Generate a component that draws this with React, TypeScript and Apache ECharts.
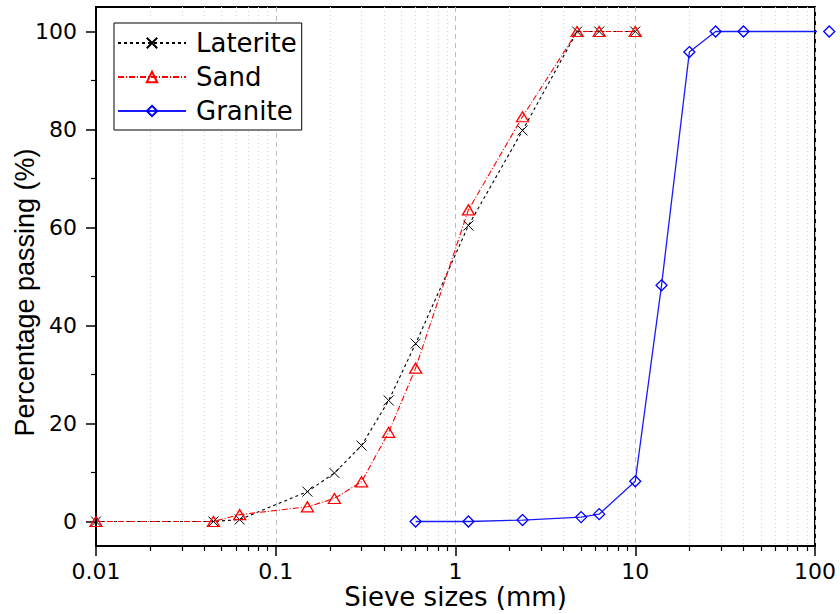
import React, { useEffect, useRef } from 'react';
import * as echarts from 'echarts';

const FONT = '"DejaVu Sans", Arial, sans-serif';
const FONT_ARIAL = '"Liberation Sans", Arial, sans-serif';

// Sieve sizes (mm) and percentage passing
const sieveLaterite = [0.01, 0.045, 0.063, 0.15, 0.212, 0.3, 0.425, 0.6, 1.18, 2.36, 4.75, 6.3, 10];
const passLaterite = [0, 0, 0.4, 6.1, 9.9, 15.5, 24.7, 36.3, 60.4, 79.8, 100, 100, 100];

const sieveSand = [0.01, 0.045, 0.063, 0.15, 0.212, 0.3, 0.425, 0.6, 1.18, 2.36, 4.75, 6.3, 10];
const passSand = [0, 0, 1.4, 3.0, 4.7, 8.1, 18.2, 31.3, 63.6, 82.6, 100, 100, 100];

const sieveGranite = [0.6, 1.18, 2.36, 5, 6.3, 10, 14, 20, 28, 40, 120];
const passGranite = [0, 0, 0.3, 0.9, 1.5, 8.2, 48.2, 95.8, 100, 100, 100];

// Axis ticks
const xTickLabels = ['0.01', '0.1', '1', '10', '100'];
const yTickValues = [0, 20, 40, 60, 80, 100];
const yMinorTickValues = [10, 30, 50, 70, 90];
const decades = [0.01, 0.1, 1, 10];
const minorMultipliers = [2, 3, 4, 5, 6, 7, 8, 9];

const xMinorLog: number[] = [];
decades.forEach((d) => minorMultipliers.forEach((m) => xMinorLog.push(Math.log10(d * m))));

const pairs = (xs: number[], ys: number[]) => xs.map((x, i) => [x, ys[i]]);

function fmtLog(v: number) {
  const e = Math.round(Math.log10(v));
  const idx = e + 2;
  return xTickLabels[idx] ?? String(v);
}

export default function App() {
  const ref = useRef<HTMLDivElement>(null);
  useEffect(() => {
    const chart = echarts.init(ref.current!, null, { renderer: 'svg' });
    const tickStyle = { color: '#000', width: 1.5 };
    chart.setOption({
      animation: false,
      backgroundColor: '#fff',
      textStyle: { fontFamily: FONT },
      grid: {
        left: 96, right: 25, top: 7, bottom: 68,
        show: true, borderColor: '#000', borderWidth: 2, backgroundColor: 'transparent',
        outerBoundsMode: 'none',
      },
      legend: {
        orient: 'vertical',
        left: 114, top: 23,
        itemWidth: 68, itemHeight: 13, itemGap: 8,
        padding: [7, 5, 6, 3],
        borderColor: '#000', borderWidth: 1, borderRadius: 0,
        backgroundColor: '#fff',
        textStyle: { fontSize: 26, color: '#000', fontFamily: FONT, padding: [0, 0, 0, 5] },
        data: ['Laterite', 'Sand', 'Granite'],
      },
      xAxis: [
        {
          type: 'log', logBase: 10, min: 0.01, max: 100, position: 'bottom',
          axisLine: { show: true, onZero: false, lineStyle: { color: '#000', width: 2 } },
          axisTick: { show: true, inside: false, length: 10, lineStyle: tickStyle },
          axisLabel: { color: '#000', fontSize: 22, fontFamily: FONT, margin: 14, formatter: fmtLog },
          splitLine: { show: true, lineStyle: { color: '#bdbdbd', type: [5, 4], width: 1 } },
          name: 'Sieve sizes (mm)', nameLocation: 'middle', nameGap: 38, nameMoveOverlap: false,
          nameTextStyle: { fontSize: 26, color: '#000', fontFamily: FONT },
        },
        {
          type: 'value', min: -2, max: 2, position: 'bottom',
          axisLine: { show: false, onZero: false },
          axisTick: { show: true, inside: false, length: 5, customValues: xMinorLog, lineStyle: { color: '#000', width: 1.2 } },
          axisLabel: { show: false },
          splitLine: { show: true, lineStyle: { color: '#d9d9d9', type: [1, 3], width: 1 } },
        },
      ],
      yAxis: [
        {
          type: 'value', min: -5, max: 105, position: 'left',
          axisLine: { show: true, onZero: false, lineStyle: { color: '#000', width: 2 } },
          axisTick: { show: true, inside: false, length: 10, customValues: yTickValues, lineStyle: tickStyle },
          axisLabel: { customValues: yTickValues, color: '#000', fontSize: 22, fontFamily: FONT, margin: 19 },
          splitLine: { show: false },
          name: 'Percentage passing (%)', nameLocation: 'middle', nameGap: 58, nameMoveOverlap: false,
          nameTextStyle: { fontSize: 27, color: '#000', fontFamily: FONT_ARIAL, padding: [0, 32, 0, 0] },
        },
        {
          type: 'value', min: -5, max: 105, position: 'left',
          axisLine: { show: false, onZero: false },
          axisTick: { show: true, inside: false, length: 5, customValues: yMinorTickValues, lineStyle: { color: '#000', width: 1.2 } },
          axisLabel: { show: false },
          splitLine: { show: false },
        },
      ],
      series: [
        {
          name: 'Laterite', type: 'line', xAxisIndex: 0, yAxisIndex: 0, clip: false,
          data: pairs(sieveLaterite, passLaterite),
          symbol: 'path://M0,0L10,10M10,0L0,10', symbolSize: 10,
          itemStyle: { color: '#000', borderColor: '#000', borderWidth: 1 },
          lineStyle: { color: '#000', width: 1.1, type: [3, 3] },
        },
        {
          name: 'Sand', type: 'line', xAxisIndex: 0, yAxisIndex: 0, clip: false,
          data: pairs(sieveSand, passSand),
          symbol: 'triangle', symbolSize: [12, 10],
          itemStyle: { color: 'rgba(0,0,0,0)', borderColor: '#ff0000', borderWidth: 1.3 },
          lineStyle: { color: '#ff0000', width: 1.1, type: [6, 2, 1, 2] },
        },
        {
          name: 'Granite', type: 'line', xAxisIndex: 0, yAxisIndex: 0, clip: false,
          data: pairs(sieveGranite, passGranite),
          symbol: 'diamond', symbolSize: [11, 11],
          itemStyle: { color: 'rgba(0,0,0,0)', borderColor: '#0000ff', borderWidth: 1.3 },
          lineStyle: { color: '#1a1aff', width: 1.3, type: 'solid' },
        },
      ],
    });
    return () => chart.dispose();
  }, []);
  return (
    <div
      ref={ref}
      style={{ position: 'fixed', left: 0, top: 0, width: 840, height: 614, background: '#fff' }}
    />
  );
}
